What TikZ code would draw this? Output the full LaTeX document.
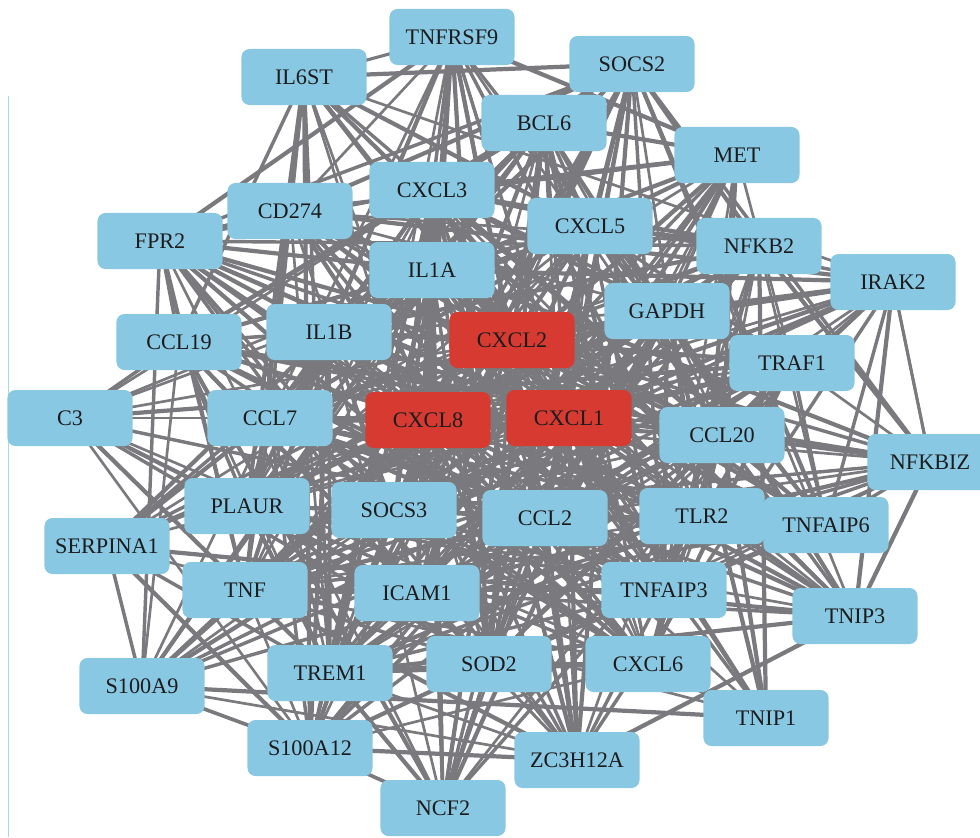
\documentclass[tikz,border=0pt]{standalone}
\usepackage{fontspec}
\setmainfont{Liberation Serif}
\usetikzlibrary{backgrounds}
\definecolor{nodeblue}{RGB}{137,200,226}
\definecolor{hubred}{RGB}{214,58,48}
\definecolor{edgegray}{RGB}{122,122,126}
\definecolor{rulecyan}{RGB}{165,218,234}
\definecolor{labelink}{RGB}{28,28,30}
\tikzset{
  gene/.style={rectangle, rounded corners=0.2cm, fill=nodeblue, draw=none,
    minimum width=3.125cm, minimum height=1.4cm, inner sep=0pt,
    text=labelink, font=\fontsize{15.8}{18}\selectfont},
  hub/.style={gene, fill=hubred},
  link/.style={draw=edgegray, line cap=round}
}
% interaction weight of each gene (index 0 unused)
\def\pw{{0,0.62,0.6,0.62,0.9,0.75,1,0.9,0.8,1,0.9,0.6,1.05,1.05,1.05,1.4,0.85,0.9,0.55,1.05,1.4,1.4,1.05,0.6,0.95,1.05,1.15,1,0.85,0.62,1.1,1.1,1,0.62,0.9,0.95,0.95,0.62,0.62,0.62,0.8,0.62}}
\begin{document}
\begin{tikzpicture}[x=0.025cm, y=-0.025cm]
\useasboundingbox (0,0) rectangle (980,837);
\clip (0,0) rectangle (980,837);
\draw[rulecyan, line width=0.7pt] (8,96) -- (8,837);

\node[gene] (n1)  at (452,37)  {TNFRSF9};
\node[gene] (n2)  at (304,77)  {IL6ST};
\node[gene] (n3)  at (632,64)  {SOCS2};
\node[gene] (n4)  at (544,123) {BCL6};
\node[gene] (n5)  at (737,155) {MET};
\node[gene] (n6)  at (432,190) {CXCL3};
\node[gene] (n7)  at (290,211) {CD274};
\node[gene] (n8)  at (160,241) {FPR2};
\node[gene] (n9)  at (590,226) {CXCL5};
\node[gene] (n10) at (759,246) {NFKB2};
\node[gene] (n11) at (893,282) {IRAK2};
\node[gene] (n12) at (432,270) {IL1A};
\node[gene] (n13) at (667,311) {GAPDH};
\node[gene] (n14) at (329,332) {IL1B};
\node[hub]  (n15) at (512,340) {CXCL2};
\node[gene] (n16) at (179,342) {CCL19};
\node[gene] (n17) at (792,363) {TRAF1};
\node[gene] (n18) at (70,418)  {C3};
\node[gene] (n19) at (270,418) {CCL7};
\node[hub]  (n20) at (428,420) {CXCL8};
\node[hub]  (n21) at (569,418) {CXCL1};
\node[gene] (n22) at (722,435) {CCL20};
\node[gene] (n23) at (930,462) {NFKBIZ};
\node[gene] (n24) at (247,506) {PLAUR};
\node[gene] (n25) at (394,510) {SOCS3};
\node[gene] (n26) at (545,518) {CCL2};
\node[gene] (n27) at (702,516) {TLR2};
\node[gene] (n28) at (826,525) {TNFAIP6};
\node[gene] (n29) at (107,546) {SERPINA1};
\node[gene] (n30) at (245,590) {TNF};
\node[gene] (n31) at (417,593) {ICAM1};
\node[gene] (n32) at (664,590) {TNFAIP3};
\node[gene] (n33) at (855,616) {TNIP3};
\node[gene] (n34) at (330,673) {TREM1};
\node[gene] (n35) at (489,664) {SOD2};
\node[gene] (n36) at (648,664) {CXCL6};
\node[gene] (n37) at (142,686) {S100A9};
\node[gene] (n38) at (766,718) {TNIP1};
\node[gene] (n39) at (310,748) {S100A12};
\node[gene] (n40) at (577,760) {ZC3H12A};
\node[gene] (n41) at (443,808) {NCF2};

% interaction edges, drawn under the gene boxes
\begin{pgfonlayer}{background}
\foreach \i in {1,...,40}{
  \pgfmathtruncatemacro{\jstart}{\i+1}
  \foreach \j in {\jstart,...,41}{
    \pgfmathtruncatemacro{\hsh}{mod(mod(\i*\i*3,97)+mod(\j*\j*7,97)+mod(\i*\j*5,97)+11,97)}
    \pgfmathtruncatemacro{\keep}{(\hsh/97 < \pw[\i]*\pw[\j]*0.72) ? 1 : 0}
    \pgfmathsetmacro{\lw}{1.9+0.55*mod(\i+2*\j,3)}
    \ifnum\keep=1
      \draw[link, line width=\lw pt] (n\i.center) -- (n\j.center);
    \fi
  }
}
% outline links between neighbouring outer genes
\draw[link, line width=2.6pt] (n37.center) -- (n39.center);
\draw[link, line width=2.6pt] (n39.center) -- (n41.center);
\draw[link, line width=2.2pt] (n2.center) -- (n1.center);
\draw[link, line width=2.2pt] (n11.center) -- (n23.center);
\end{pgfonlayer}
\end{tikzpicture}
\end{document}
